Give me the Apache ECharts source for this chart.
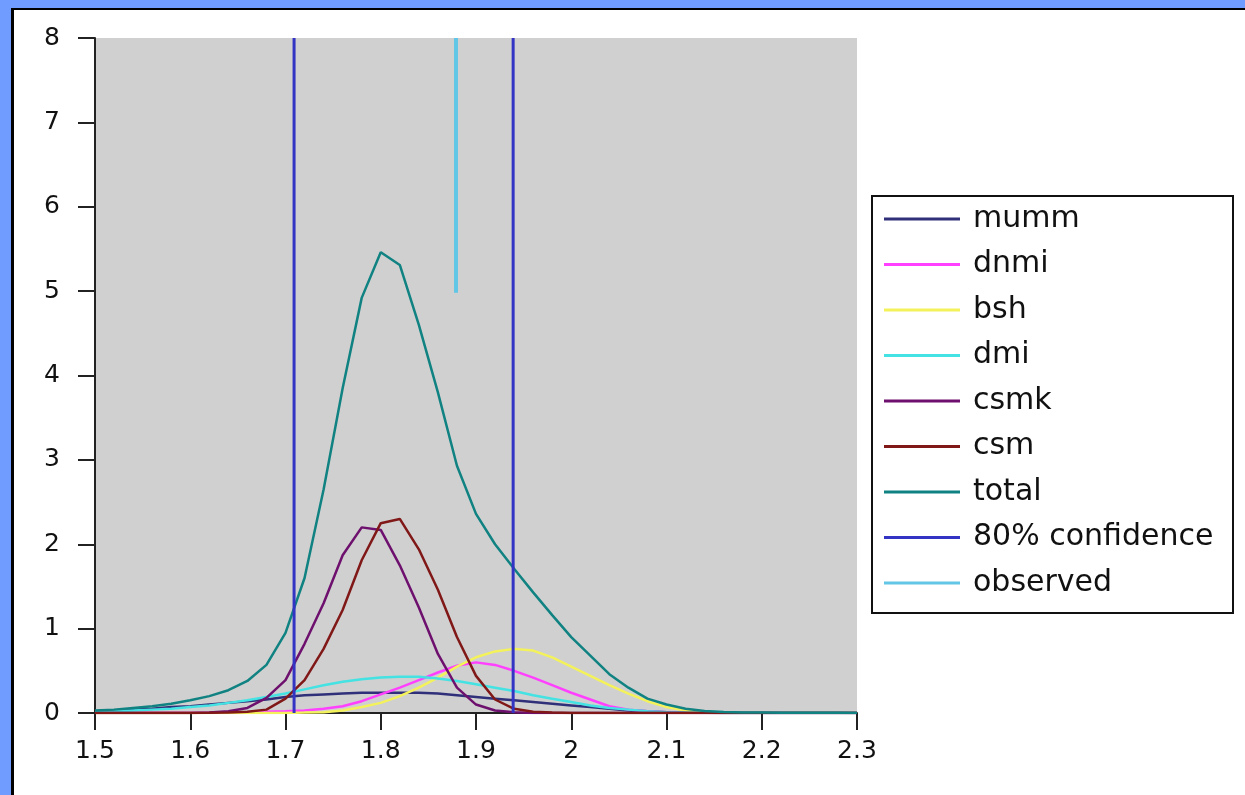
<!DOCTYPE html>
<html>
<head>
<meta charset="utf-8">
<script src="https://cdn.jsdelivr.net/npm/echarts@6/dist/echarts.min.js"></script>
<style>
  html, body { margin: 0; padding: 0; background: #709cff; width: 1245px; height: 795px; overflow: hidden; }
  #frame { position: absolute; left: 11px; top: 8px; width: 1240px; height: 800px; background: #ffffff; border-left: 3px solid #000; border-top: 2px solid #000; }
  #chart { position: absolute; left: 0; top: 0; width: 1245px; height: 795px; }
</style>
</head>
<body>
<div id="frame"></div>
<div id="chart"></div>
<script>
// x sample positions
const xs = [1.50,1.52,1.54,1.56,1.58,1.60,1.62,1.64,1.66,1.68,1.70,1.72,1.74,1.76,1.78,1.80,1.82,1.84,1.86,1.88,1.90,1.92,1.94,1.96,1.98,2.00,2.02,2.04,2.06,2.08,2.10,2.12,2.14,2.16,2.18,2.20,2.22,2.24,2.26,2.28,2.30];

const mumm  = [0.02,0.03,0.04,0.05,0.07,0.08,0.10,0.12,0.14,0.16,0.19,0.21,0.22,0.23,0.24,0.24,0.24,0.24,0.23,0.21,0.19,0.17,0.15,0.13,0.11,0.09,0.07,0.05,0.03,0.02,0.01,0.005,0.002,0.001,0.001,0.001,0.001,0.001,0.001,0.001,0.001];
const dnmi  = [0.002,0.002,0.002,0.002,0.002,0.002,0.003,0.005,0.01,0.015,0.02,0.03,0.05,0.08,0.14,0.22,0.30,0.39,0.48,0.56,0.60,0.57,0.50,0.42,0.33,0.24,0.16,0.08,0.04,0.02,0.01,0.003,0.003,0.003,0.003,0.003,0.003,0.003,0.003,0.003,0.003];
const bsh   = [0.001,0.001,0.001,0.001,0.001,0.001,0.001,0.001,0.001,0.001,0.001,0.005,0.01,0.03,0.07,0.12,0.20,0.30,0.42,0.55,0.66,0.73,0.76,0.74,0.66,0.55,0.44,0.33,0.23,0.14,0.07,0.03,0.01,0.002,0.002,0.002,0.002,0.002,0.002,0.002,0.002];
const dmi   = [0.015,0.02,0.03,0.04,0.05,0.07,0.09,0.12,0.15,0.19,0.23,0.28,0.33,0.37,0.40,0.42,0.43,0.43,0.41,0.38,0.34,0.30,0.26,0.21,0.17,0.13,0.09,0.06,0.04,0.02,0.01,0.005,0.002,0.002,0.002,0.002,0.002,0.002,0.002,0.002,0.002];
const csmk  = [0,0,0,0,0,0,0.005,0.02,0.06,0.18,0.39,0.82,1.30,1.87,2.20,2.17,1.75,1.25,0.70,0.30,0.10,0.03,0.01,0,0,0,0,0,0,0,0,0,0,0,0,0,0,0,0,0,0];
const csm   = [0,0,0,0,0,0,0.002,0.005,0.015,0.04,0.17,0.39,0.76,1.22,1.81,2.25,2.30,1.94,1.46,0.90,0.44,0.16,0.05,0.015,0.005,0,0,0,0,0,0,0,0,0,0,0,0,0,0,0,0];
const total = [0.03,0.04,0.06,0.08,0.11,0.15,0.20,0.27,0.38,0.57,0.95,1.60,2.65,3.85,4.92,5.46,5.31,4.60,3.80,2.93,2.36,2.00,1.71,1.43,1.16,0.90,0.68,0.46,0.30,0.17,0.10,0.05,0.025,0.012,0.006,0.005,0.004,0.003,0.002,0.002,0.001];

const confidenceX = [1.709, 1.939];
const confidenceY = [0, 8];
const observedX = 1.879;
const observedY = [4.98, 8];

const xTicks = [1.5,1.6,1.7,1.8,1.9,2.0,2.1,2.2,2.3];
const yTicks = [0,1,2,3,4,5,6,7,8];

const names  = ['mumm','dnmi','bsh','dmi','csmk','csm','total'];
const values = [mumm, dnmi, bsh, dmi, csmk, csm, total];
const colors = ['#30307a','#ff40ff','#f4f25a','#44e2e2','#6e106e','#801818','#108282'];
const confColor = '#3434c4';
const obsColor = '#62c6e6';

const FONT = 'DejaVu Sans';

const series = [];
names.forEach((n, i) => {
  series.push({
    name: n, type: 'line', symbol: 'none', smooth: false,
    data: xs.map((x, k) => [x, values[i][k]]),
    lineStyle: { color: colors[i], width: 2.5 },
    itemStyle: { color: colors[i] },
    z: 2
  });
});
confidenceX.forEach(cx => {
  series.push({
    name: '80% confidence', type: 'line', symbol: 'none',
    data: confidenceY.map(y => [cx, y]),
    lineStyle: { color: confColor, width: 3 },
    itemStyle: { color: confColor },
    z: 3
  });
});
series.push({
  name: 'observed', type: 'line', symbol: 'none',
  data: observedY.map(y => [observedX, y]),
  lineStyle: { color: obsColor, width: 4 },
  itemStyle: { color: obsColor },
  z: 3
});

const chart = echarts.init(document.getElementById('chart'), null, { renderer: 'canvas' });
chart.setOption({
  animation: false,
  backgroundColor: 'transparent',
  textStyle: { fontFamily: FONT },
  grid: { left: 95, top: 38, right: 388, bottom: 82, show: true, backgroundColor: '#d0d0d0', borderWidth: 0 },
  xAxis: {
    type: 'value', min: xTicks[0], max: xTicks[xTicks.length - 1], interval: 0.1,
    axisLine: { show: true, onZero: false, lineStyle: { color: '#222', width: 2 } },
    axisTick: { show: true, inside: false, length: 17, lineStyle: { color: '#222', width: 2 } },
    splitLine: { show: false },
    axisLabel: { color: '#111', fontSize: 25, fontFamily: FONT, margin: 26,
      formatter: v => String(+v.toFixed(1)) }
  },
  yAxis: {
    type: 'value', min: yTicks[0], max: yTicks[yTicks.length - 1], interval: 1,
    axisLine: { show: true, onZero: false, lineStyle: { color: '#222', width: 2 } },
    axisTick: { show: true, inside: false, length: 17, lineStyle: { color: '#222', width: 2 } },
    splitLine: { show: false },
    axisLabel: { color: '#111', fontSize: 25, fontFamily: FONT, margin: 35 }
  },
  graphic: [{
    type: 'rect', left: 871, top: 195, z: 0,
    shape: { width: 361, height: 417 },
    style: { fill: '#ffffff', stroke: '#111', lineWidth: 2 }
  }],
  legend: {
    orient: 'vertical', left: 884, top: 204,
    data: ['mumm','dnmi','bsh','dmi','csmk','csm','total','80% confidence','observed'],
    icon: 'rect', itemWidth: 76, itemHeight: 3, itemGap: 15.5,
    textStyle: { fontFamily: FONT, fontSize: 30, color: '#111', lineHeight: 30, padding: [0, 0, 0, 8] },
    padding: 0,
    selectedMode: false
  },
  series: series
});
</script>
</body>
</html>
